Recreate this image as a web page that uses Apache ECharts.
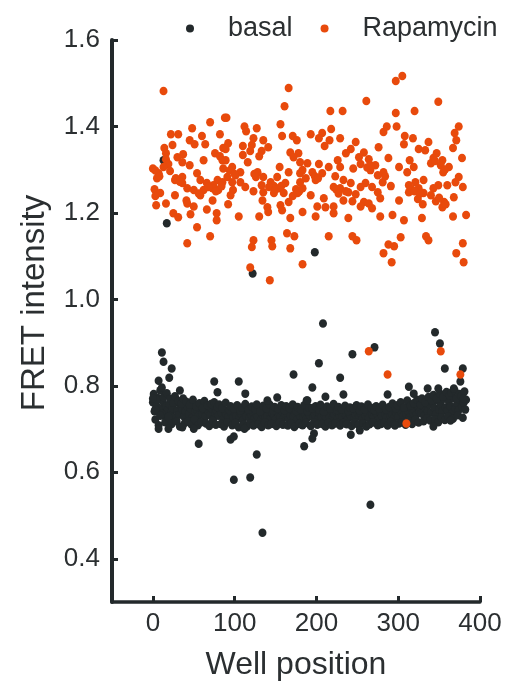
<!DOCTYPE html>
<html>
<head>
<meta charset="utf-8">
<script src="https://cdn.jsdelivr.net/npm/echarts@6/dist/echarts.min.js"></script>
<style>
html,body{margin:0;padding:0;background:#fff;}
#chart{width:509px;height:689px;}
</style>
</head>
<body>
<div id="chart"></div>
<script>
// ---- data ----
var seriesNames = ['basal', 'Rapamycin'];
var xTickValues = [0, 100, 200, 300, 400];
var yTickValues = [0.4, 0.6, 0.8, 1.0, 1.2, 1.4, 1.6];

// basal: dense band, one value per even well position (0,2,4,...)
var basalBandEven = [
0.762,0.741,0.755,0.772,0.738,0.748,0.765,0.731,0.752,0.744,
0.758,0.737,0.749,0.727,0.761,0.742,0.733,0.754,0.746,0.729,
0.741,0.752,0.735,0.748,0.726,0.757,0.739,0.744,0.731,0.750,
0.736,0.745,0.728,0.753,0.740,0.733,0.747,0.724,0.738,0.742,
0.731,0.746,0.737,0.722,0.741,0.734,0.728,0.745,0.736,0.725,
0.739,0.730,0.744,0.727,0.735,0.720,0.738,0.731,0.742,0.726,
0.733,0.740,0.724,0.736,0.729,0.743,0.721,0.734,0.738,0.727,
0.731,0.745,0.725,0.737,0.730,0.722,0.740,0.733,0.728,0.741,
0.726,0.735,0.739,0.723,0.732,0.744,0.729,0.736,0.721,0.738,
0.730,0.742,0.727,0.735,0.724,0.739,0.731,0.745,0.728,0.734,
0.740,0.723,0.736,0.729,0.743,0.732,0.725,0.738,0.730,0.744,
0.727,0.735,0.741,0.724,0.733,0.739,0.728,0.746,0.731,0.722,
0.737,0.730,0.743,0.726,0.734,0.740,0.729,0.736,0.723,0.742,
0.731,0.738,0.725,0.744,0.733,0.728,0.740,0.735,0.722,0.739,
0.730,0.745,0.734,0.727,0.741,0.732,0.737,0.724,0.743,0.736,
0.729,0.746,0.738,0.731,0.750,0.735,0.742,0.727,0.748,0.739,
0.744,0.733,0.752,0.740,0.736,0.755,0.731,0.747,0.742,0.758,
0.738,0.761,0.749,0.734,0.766,0.745,0.756,0.741,0.770,0.750,
0.743,0.764,0.753,0.737,0.772,0.748,0.759,0.744,0.768,0.752,
0.761,0.745
];

// basal: band edge wells, one value per odd well position (1,3,5,...)
var basalBandOdd = [
0.781,0.722,0.768,0.709,0.790,0.735,0.774,0.716,0.783,0.728,
0.770,0.712,0.761,0.776,0.718,0.765,0.706,0.759,0.771,0.714,
0.763,0.718,0.756,0.711,0.768,0.722,0.752,0.709,0.760,0.716,
0.749,0.765,0.713,0.755,0.707,0.758,0.719,0.762,0.710,0.751,
0.757,0.712,0.748,0.706,0.761,0.716,0.744,0.753,0.709,0.747,
0.714,0.755,0.704,0.743,0.750,0.711,0.758,0.706,0.745,0.713,
0.752,0.708,0.746,0.757,0.711,0.741,0.705,0.754,0.715,0.748,
0.709,0.756,0.712,0.743,0.751,0.707,0.747,0.716,0.755,0.710,
0.744,0.753,0.708,0.749,0.713,0.757,0.705,0.742,0.751,0.712,
0.746,0.709,0.755,0.714,0.741,0.750,0.707,0.748,0.716,0.753,
0.710,0.745,0.756,0.712,0.740,0.706,0.752,0.715,0.747,0.709,
0.758,0.713,0.744,0.751,0.708,0.746,0.714,0.754,0.711,0.742,
0.750,0.707,0.748,0.716,0.755,0.710,0.743,0.752,0.713,0.746,
0.706,0.757,0.711,0.749,0.715,0.744,0.753,0.709,0.747,0.712,
0.756,0.714,0.745,0.708,0.751,0.717,0.759,0.711,0.748,0.755,
0.713,0.762,0.716,0.750,0.710,0.766,0.719,0.754,0.712,0.760,
0.722,0.768,0.715,0.757,0.771,0.718,0.762,0.725,0.774,0.720,
0.766,0.779,0.723,0.770,0.716,0.782,0.727,0.775,0.721,0.786,
0.729,0.778,0.784,0.724,0.789,0.771,0.732,0.781,0.776,0.726,
0.787,0.768
];

// basal: scattered wells [well, FRET]
var basalScatter = [
[11,0.877],[13,0.856],[23,0.84],[20,0.819],[7,0.812],[11,0.796],[33,0.789],[75,0.81],[79,0.785],
[105,0.81],[113,0.782],[172,0.826],[140,0.766],[152,0.773],[189,0.766],[0,0.771],[3,0.745],[9,0.731],
[7,0.701],[19,0.701],[36,0.704],[50,0.701],[56,0.666],[95,0.676],[99,0.683],[112,0.701],[127,0.641],
[99,0.583],[119,0.588],[134,0.46],[185,0.66],
[208,0.944],[345,0.924],[351,0.898],[271,0.889],[244,0.873],[203,0.852],[357,0.84],[379,0.84],
[229,0.819],[376,0.81],[195,0.796],[313,0.798],[336,0.794],[349,0.794],[368,0.794],[380,0.771],
[319,0.782],[287,0.78],[233,0.78],[211,0.775],[188,0.766],[197,0.69],[195,0.678],[242,0.687],
[253,0.697],[296,0.708],[343,0.706],[364,0.72],[266,0.525],
[17,1.176],[122,1.06],[198,1.109],[13,1.322]
];

// Rapamycin: [well, FRET]
var rapaPoints = [
[13,1.482],[70,1.41],[88,1.42],[48,1.396],[22,1.382],[31,1.382],[60,1.378],[82,1.382],[45,1.368],
[24,1.357],[51,1.359],[64,1.359],[14,1.35],[86,1.35],[16,1.338],[37,1.336],[30,1.329],[76,1.338],
[82,1.331],[16,1.324],[62,1.322],[36,1.317],[85,1.322],[19,1.313],[45,1.31],[13,1.306],[0,1.303],
[86,1.303],[21,1.297],[7,1.292],[54,1.292],[5,1.28],[36,1.283],[27,1.276],[58,1.276],[66,1.269],
[79,1.276],[36,1.269],[74,1.264],[85,1.271],[2,1.255],[42,1.257],[50,1.253],[62,1.253],[73,1.257],
[80,1.253],[9,1.246],[3,1.239],[27,1.241],[58,1.241],[41,1.229],[73,1.229],[16,1.222],[4,1.218],
[42,1.222],[50,1.215],[66,1.208],[78,1.199],[25,1.199],[31,1.19],[46,1.197],[78,1.183],[54,1.167],
[70,1.146],[42,1.13],
[3,1.298],[8,1.285],[28,1.28],[33,1.272],[68,1.26],[77,1.25],[84,1.262],[56,1.245],
[166,1.489],[161,1.447],[90,1.42],[156,1.405],[112,1.40],[127,1.396],[114,1.389],[158,1.378],
[171,1.378],[123,1.373],[135,1.368],[176,1.368],[92,1.361],[110,1.355],[121,1.357],[141,1.352],
[89,1.348],[119,1.343],[133,1.343],[168,1.34],[178,1.338],[110,1.334],[130,1.331],[172,1.329],
[89,1.322],[116,1.317],[180,1.317],[155,1.306],[97,1.306],[166,1.294],[107,1.294],[128,1.294],
[180,1.292],[101,1.287],[91,1.283],[126,1.283],[135,1.283],[152,1.283],[97,1.271],[107,1.271],
[144,1.271],[162,1.269],[180,1.271],[133,1.264],[148,1.262],[113,1.26],[154,1.257],[98,1.253],
[175,1.255],[123,1.25],[135,1.248],[148,1.246],[160,1.246],[95,1.241],[171,1.239],[177,1.246],
[134,1.229],[166,1.225],[92,1.22],[156,1.218],[140,1.213],[141,1.202],[158,1.206],[183,1.202],
[105,1.192],[130,1.192],[168,1.188],[164,1.153],[173,1.146],[123,1.137],[145,1.137],[121,1.121],
[146,1.123],[168,1.118],[183,1.081],[119,1.074],[143,1.044],
[94,1.298],[100,1.29],[142,1.26],[150,1.255],[157,1.262],[179,1.25],[124,1.29],
[261,1.459],[217,1.436],[232,1.436],[218,1.394],[193,1.382],[207,1.385],[282,1.387],[203,1.373],
[216,1.368],[229,1.373],[248,1.364],[210,1.355],[276,1.352],[242,1.348],[236,1.338],[258,1.34],
[252,1.329],[264,1.324],[226,1.322],[189,1.315],[203,1.313],[254,1.313],[272,1.31],[215,1.306],
[229,1.306],[245,1.303],[183,1.299],[195,1.294],[266,1.299],[282,1.294],[207,1.292],[223,1.285],
[275,1.287],[187,1.28],[199,1.276],[233,1.276],[242,1.269],[260,1.269],[281,1.271],[221,1.26],
[229,1.257],[254,1.26],[268,1.26],[183,1.257],[239,1.248],[248,1.243],[275,1.248],[193,1.241],
[209,1.234],[233,1.229],[244,1.227],[258,1.225],[278,1.234],[264,1.222],[201,1.215],[211,1.213],
[221,1.215],[254,1.215],[268,1.211],[221,1.199],[199,1.192],[278,1.192],[239,1.188],[215,1.146],
[244,1.146],[249,1.137],[282,1.107],
[224,1.255],[227,1.245],[236,1.25],[262,1.305],[266,1.31],[198,1.285],[202,1.28],
[297,1.505],[305,1.517],[349,1.457],[297,1.431],[320,1.436],[286,1.40],[298,1.40],[374,1.40],
[369,1.385],[308,1.378],[318,1.373],[371,1.368],[337,1.364],[307,1.359],[325,1.348],[333,1.345],
[367,1.35],[347,1.338],[343,1.327],[288,1.327],[378,1.327],[314,1.322],[354,1.322],[340,1.315],
[301,1.306],[319,1.306],[362,1.306],[311,1.294],[355,1.294],[284,1.285],[374,1.283],[331,1.276],
[321,1.271],[370,1.271],[291,1.262],[313,1.264],[349,1.264],[360,1.264],[379,1.26],[325,1.257],
[343,1.257],[313,1.248],[331,1.246],[368,1.236],[340,1.241],[324,1.232],[301,1.229],[346,1.227],
[330,1.22],[356,1.225],[354,1.213],[293,1.195],[329,1.188],[367,1.192],[383,1.195],[307,1.183],
[334,1.146],[337,1.137],[303,1.144],[288,1.127],[295,1.123],[379,1.13],[371,1.107],[292,1.086],
[380,1.086],
[316,1.255],[320,1.25],[327,1.245],[345,1.32],[352,1.31],[357,1.3],[350,1.235],[358,1.22],
[264,0.88],[287,0.826],[352,0.88],[376,0.826],[310,0.713]
];

var colBasal = '#23292b';
var colRapa = '#e84a0c';
var textCol = '#2b2f31';
var fontFam = '"Liberation Sans", Arial, sans-serif';

var basalData = basalBandEven.map(function (v, i) { return [i * 2, v]; })
  .concat(basalBandOdd.map(function (v, i) { return [i * 2 + 1, v]; }))
  .concat(basalScatter);

var chart = echarts.init(document.getElementById('chart'), null, { renderer: 'canvas' });
chart.setOption({
  animation: false,
  backgroundColor: '#ffffff',
  textStyle: { fontFamily: fontFam },
  grid: { left: 112, right: 29, top: 40, bottom: 87, containLabel: false },
  legend: {
    data: seriesNames,
    left: 181, top: 10,
    icon: 'circle', itemWidth: 8, itemHeight: 8, itemGap: 28,
    textStyle: { fontSize: 27, color: textCol, fontFamily: fontFam, padding: [0, 0, 0, 29] }
  },
  xAxis: {
    type: 'value', min: -50, max: 400,
    name: 'Well position', nameLocation: 'middle', nameGap: 47,
    nameTextStyle: { fontSize: 32, color: textCol, fontFamily: fontFam },
    splitLine: { show: false },
    axisLine: { show: true, onZero: false, lineStyle: { color: colBasal, width: 3.5 } },
    axisTick: { show: true, inside: true, length: 6, customValues: xTickValues, lineStyle: { color: colBasal, width: 3 } },
    axisLabel: { customValues: xTickValues, fontSize: 26, color: textCol, margin: 9, fontFamily: fontFam }
  },
  yAxis: {
    type: 'value', min: 0.3, max: 1.6,
    splitLine: { show: false },
    axisLine: { show: true, onZero: false, lineStyle: { color: colBasal, width: 4 } },
    axisTick: { show: true, inside: true, length: 6, customValues: yTickValues, lineStyle: { color: colBasal, width: 3 } },
    axisLabel: { customValues: yTickValues, fontSize: 26, color: textCol, margin: 12, fontFamily: fontFam,
      formatter: function (v) { return Number(v).toFixed(1); } }
  },
  graphic: [{
    type: 'text', x: 35, y: 303, rotation: Math.PI / 2,
    style: { text: 'FRET intensity', fill: textCol, font: '33px "Liberation Sans", Arial, sans-serif',
      textAlign: 'center', textVerticalAlign: 'middle' }
  }],
  series: [
    { name: seriesNames[0], type: 'scatter', data: basalData, symbol: 'circle', symbolSize: [8, 8.5],
      itemStyle: { color: colBasal, opacity: 1 }, emphasis: { disabled: true } },
    { name: seriesNames[1], type: 'scatter', data: rapaPoints, symbol: 'circle', symbolSize: [8, 8.5],
      itemStyle: { color: colRapa, opacity: 1 }, emphasis: { disabled: true } }
  ]
});
</script>
</body>
</html>
